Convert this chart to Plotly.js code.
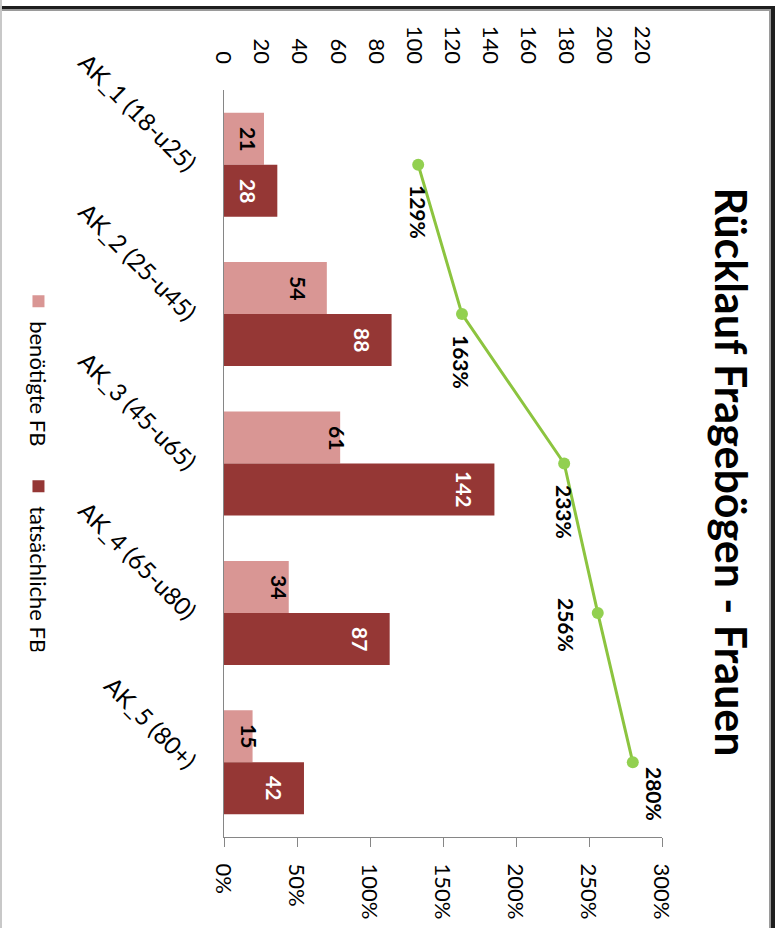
<!DOCTYPE html>
<html>
<head>
<meta charset="utf-8">
<script src="https://cdn.plot.ly/plotly-3.0.1.min.js"></script>
<style>
  html, body { margin:0; padding:0; background:#fff; overflow:hidden; width:781px; height:928px; }
  #wrap { position:absolute; left:0; top:0; width:928px; height:781px; transform-origin:0 0; transform:translate(781px,0) rotate(90deg); background:#fff; }
  #chart { position:absolute; left:0; top:0; width:928px; height:781px; }
  #frame1 { position:absolute; left:6px; top:6px; width:1000px; height:772px; border-left:3px solid #1e1e1e; border-top:4px solid #1e1e1e; pointer-events:none; }
  #frame2 { position:absolute; left:9px; top:10px; width:1000px; height:770px; border-left:2px solid #9a9a9a; border-top:2px solid #9a9a9a; pointer-events:none; }
  #frame3 { position:absolute; left:0; top:779px; width:928px; height:0; border-top:2px solid #c8c8c8; pointer-events:none; }
</style>
</head>
<body>
<div id="wrap">
  <div id="chart"></div>
  <div id="frame1"></div>
  <div id="frame2"></div>
  <div id="frame3"></div>
</div>
<script>
// ---- data ----
const categories = ['AK_1 (18-u25)', 'AK_2 (25-u45)', 'AK_3 (45-u65)', 'AK_4 (65-u80)', 'AK_5 (80+)'];
const benoetigteFB = [21, 54, 61, 34, 15];
const tatsaechlicheFB = [28, 88, 142, 87, 42];
const ruecklauf = [1.33, 1.63, 2.33, 2.56, 2.80];
const ruecklaufLabels = ['129%', '163%', '233%', '256%', '280%'];
const leftTickVals = [0, 20, 40, 60, 80, 100, 120, 140, 160, 180, 200, 220];
const rightTickVals = [0, 0.5, 1, 1.5, 2, 2.5, 3];
const seriesNames = ['benötigte FB', 'tatsächliche FB'];
const chartTitle = 'Rücklauf Fragebögen - Frauen';

// ---- label placement (pixels) ----
const lineLabelDx = [47, 48, 48, 12, 32];
const lineLabelDy = [0, 0, 0, -31, 22];
const lightLabelInset = [15, 28, 3, 9, 3.5];   // px from bar end to label centre
const darkLabelInset = [29, 29, 30, 29, 29];

const FONT = 'Lato, Carlito, "Open Sans", sans-serif';
const BARGAP = 0.304;
const halfBar = (1 - BARGAP) / 4;

const traces = [
  {
    type: 'bar', name: seriesNames[0], x: categories, y: benoetigteFB,
    marker: { color: '#D99694' }, hoverinfo: 'skip'
  },
  {
    type: 'bar', name: seriesNames[1], x: categories, y: tatsaechlicheFB,
    marker: { color: '#953735' }, hoverinfo: 'skip'
  },
  {
    type: 'scatter', mode: 'lines+markers', x: categories, y: ruecklauf, yaxis: 'y2',
    line: { color: '#8CC43F', width: 3 },
    marker: { color: '#92D050', size: 12 },
    showlegend: false, hoverinfo: 'skip'
  }
];

const annotations = [];
ruecklaufLabels.forEach((t, i) => annotations.push({
  x: categories[i], y: ruecklauf[i], xref: 'x', yref: 'y2',
  text: '<b>' + t + '</b>', showarrow: false,
  xshift: lineLabelDx[i], yshift: lineLabelDy[i],
  xanchor: 'center', yanchor: 'middle',
  font: { family: FONT, size: 21, color: '#000' }
}));
benoetigteFB.forEach((v, i) => annotations.push({
  x: i - halfBar, y: v, xref: 'x', yref: 'y',
  text: '<b>' + v + '</b>', showarrow: false,
  yshift: -lightLabelInset[i], xanchor: 'center', yanchor: 'middle',
  font: { family: FONT, size: 21, color: '#000' }
}));
tatsaechlicheFB.forEach((v, i) => annotations.push({
  x: i + halfBar, y: v, xref: 'x', yref: 'y',
  text: '<b>' + v + '</b>', showarrow: false,
  yshift: -darkLabelInset[i], xanchor: 'center', yanchor: 'middle',
  font: { family: FONT, size: 21, color: '#fff' }
}));

const layout = {
  width: 928, height: 781,
  margin: { l: 90, r: 91, t: 119, b: 224, pad: 0 },
  paper_bgcolor: 'rgba(0,0,0,0)', plot_bgcolor: 'rgba(0,0,0,0)',
  font: { family: FONT, color: '#000' },
  title: {
    text: '<b>' + chartTitle + '</b>',
    font: { family: FONT, size: 43, color: '#000' },
    xref: 'container', yref: 'container', x: 0.5086, y: 0.935,
    xanchor: 'center', yanchor: 'middle'
  },
  barmode: 'group', bargap: BARGAP, bargroupgap: 0,
  xaxis: {
    type: 'category', showline: true, linecolor: '#868686', linewidth: 1,
    ticks: '', tickangle: -45, showgrid: false, zeroline: false,
    tickfont: { family: FONT, size: 24, color: '#000' },
    ticklabelstandoff: 12
  },
  yaxis: {
    range: [0, 230], tickmode: 'array', tickvals: leftTickVals,
    showline: false, showgrid: false, zeroline: false, ticks: '',
    tickfont: { family: FONT, size: 22, color: '#000' },
    ticklabelstandoff: 25
  },
  yaxis2: {
    overlaying: 'y', side: 'right', range: [0, 3], tickmode: 'array', tickvals: rightTickVals,
    tickformat: '.0%', showline: true, linecolor: '#868686', linewidth: 1,
    ticks: 'outside', ticklen: 9, tickcolor: '#868686', showgrid: false, zeroline: false,
    tickfont: { family: FONT, size: 22, color: '#000' },
    ticklabelstandoff: 12
  },
  showlegend: true,
  legend: {
    orientation: 'h', xref: 'container', yref: 'container',
    x: 0.303, xanchor: 'left', y: 0.049, yanchor: 'middle',
    font: { family: FONT, size: 22, color: '#000' },
    entrywidth: 140, entrywidthmode: 'pixels',
    bgcolor: 'rgba(0,0,0,0)', traceorder: 'normal'
  },
  annotations: annotations
};

Plotly.newPlot('chart', traces, layout, { staticPlot: true, displayModeBar: false });
</script>
</body>
</html>
